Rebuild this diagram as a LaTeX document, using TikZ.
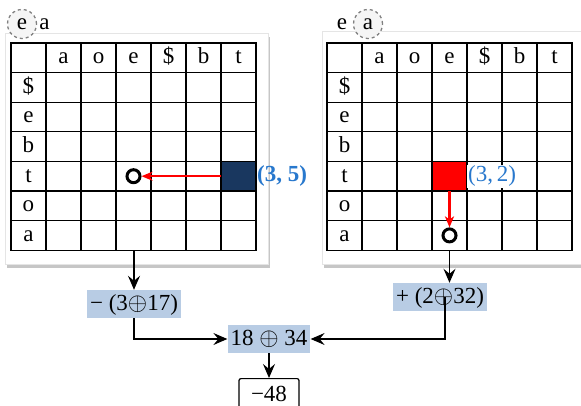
\documentclass[tikz,border=0pt]{standalone}
\usepackage{fontspec}
\setmainfont{Liberation Serif}
\usetikzlibrary{arrows.meta,shadows}
\definecolor{navy}{RGB}{25,55,95}
\definecolor{hilite}{RGB}{184,204,228}
\definecolor{labblue}{RGB}{40,120,205}

\begin{document}
\begin{tikzpicture}[x=1pt,y=-1pt,
    every node/.style={font=\fontsize{23}{25}\selectfont},
    cell/.style={draw,line width=1.3pt,minimum width=35pt,minimum height=29.6pt,
      inner sep=0pt,outer sep=0pt,text height=15pt,text depth=3pt},
    panel/.style={fill=white,draw=gray!20,
      drop shadow={opacity=.45,shadow xshift=1.5pt,shadow yshift=-4pt}},
    ring/.style={circle,draw,line width=3pt,minimum size=13pt,inner sep=0pt},
    pick/.style={circle,draw=gray,dashed,line width=1.3pt,fill=gray!8,
      minimum size=29pt,inner sep=0pt},
    term/.style={fill=hilite,inner sep=3pt,text height=17pt,text depth=5pt},
    coord/.style={text=labblue,anchor=west},
    link/.style={line width=1.2pt,-{Stealth[length=14pt,width=12pt,inset=5pt]}},
    move/.style={red,line width=2.2pt,-{Stealth[length=11pt,width=9pt,inset=3pt]}}]

  \useasboundingbox (0,0) rectangle (581,406);

  % the two tables
  \path[panel] (5,33) rectangle (268,264);
  \path[panel] (322,31) rectangle (600,264);
  \foreach \g/\x in {L/11,R/327} {
    \foreach \r in {0,...,6}
      \foreach \c in {0,...,6}
        \node[cell] (\g-\r-\c) at (\x+17.5+35*\c,57.8+29.6*\r) {};
    \foreach \c/\t in {1/a,2/o,3/e,4/\$,5/b,6/t}
      \node[cell,draw=none] at (\g-0-\c) {\t};
    \foreach \r/\t in {1/\$,2/e,3/b,4/t,5/o,6/a}
      \node[cell,draw=none] at (\g-\r-0) {\t};
  }

  % picked letters
  \node[pick] (lpick) at (22,24) {e};
  \node[anchor=west,inner sep=2pt] (la) at (lpick.east) {a};
  \node (re) at (342,24) {e};
  \node[pick] (rpick) at (368,24) {a};

  % moves inside the tables
  \path[fill=navy,draw=black,line width=1.3pt] (L-4-6.north west) rectangle (L-4-6.south east);
  \path[fill=red,draw=black,line width=1.3pt] (R-4-3.north west) rectangle (R-4-3.south east);
  \node[ring] (lring) at (L-4-3) {};
  \node[ring] (rring) at (R-6-3) {};
  \draw[move] (L-4-6.west) -- (lring);
  \draw[move] (R-4-3.south) -- (rring);
  \node[coord,font=\fontsize{23}{25}\selectfont\bfseries,inner sep=1pt] at (L-4-6.east) {(3, 5)};
  \node[coord,fill=white,inner sep=1pt] at (R-4-3.east) {(3,\,2)};

  % sums
  \node[term] (lterm) at (134,304) {− (3$\oplus$17)};
  \node[term] (rterm) at (440,297) {+ (2$\oplus$32)};
  \node[term] (sum) at (269,339) {18 $\oplus$ 34};
  \node[draw,rounded corners=2pt,line width=1.2pt,minimum width=60pt,
    minimum height=30pt,anchor=north] (res) at (269,378) {−48};

  \draw[link] (lterm.north |- L-6-3.south) -- (lterm.north);
  \draw[link] (R-6-3.south) -- (R-6-3.south |- rterm.north);
  \draw[link] (lterm.south) |- (sum.west);
  \draw[link] ([xshift=5pt]rterm.center) |- (sum.east);
  \draw[link] (sum.south) -- (sum.south |- res.north);
\end{tikzpicture}
\end{document}
